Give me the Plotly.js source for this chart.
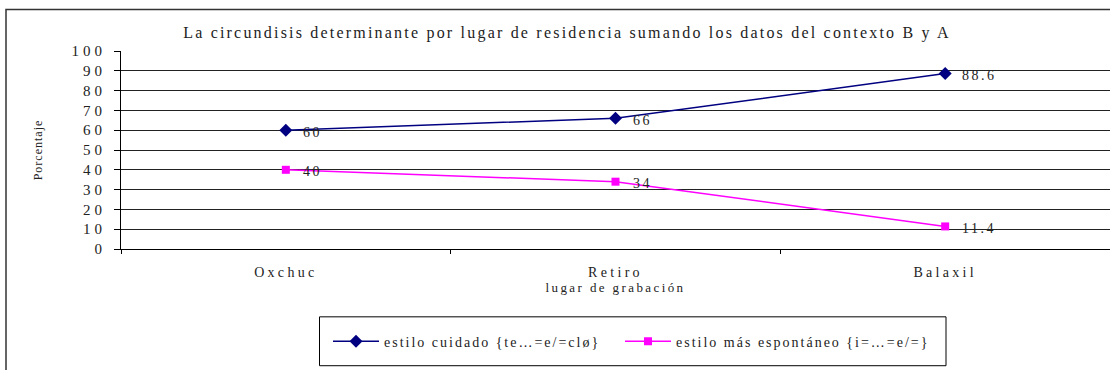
<!DOCTYPE html>
<html>
<head>
<meta charset="utf-8">
<script src="https://cdn.plot.ly/plotly-3.0.1.min.js"></script>
<style>
html,body{margin:0;padding:0;background:#fff;}
#chart{width:1110px;height:370px;}
.gtitle{letter-spacing:2.2px;}
.ytick text{letter-spacing:4px;}
.xtick text{letter-spacing:3.3px;}
.xtitle{letter-spacing:2.4px;}
.ytitle{letter-spacing:1px;}
.legendtext{letter-spacing:2px;}
.annotation-text{letter-spacing:2.5px;}
</style>
</head>
<body>
<div id="chart"></div>
<script>
var categories = ["Oxchuc", "Retiro", "Balaxil"];
var seriesNames = ["estilo cuidado {te…=e/=clø}", "estilo más espontáneo {i=…=e/=}"];
var cuidado = [60, 66, 88.6];
var espontaneo = [40, 34, 11.4];
var yTicks = [0, 10, 20, 30, 40, 50, 60, 70, 80, 90, 100];

var FONT = "'Liberation Serif', 'Times New Roman', Times, serif";
var TXT = "#222";

var traces = [
  {
    x: categories, y: cuidado, name: seriesNames[0], type: "scatter",
    mode: "lines+markers",
    line: {color: "#000080", width: 1.5},
    marker: {symbol: "diamond", size: 10, color: "#000080"},
    cliponaxis: false, legendwidth: 231
  },
  {
    x: categories, y: espontaneo, name: seriesNames[1], type: "scatter",
    mode: "lines+markers",
    line: {color: "#FF00FF", width: 1.5},
    marker: {symbol: "square", size: 8, color: "#FF00FF"},
    cliponaxis: false, legendwidth: 275
  }
];

// data labels placed through the axes (category, value)
var annotations = [];
[cuidado, espontaneo].forEach(function (vals) {
  vals.forEach(function (v, i) {
    annotations.push({
      x: categories[i], y: v, xref: "x", yref: "y", text: String(v),
      showarrow: false, xanchor: "left", yanchor: "middle", xshift: 15, yshift: -2,
      font: {family: FONT, size: 14, color: TXT}
    });
  });
});

var ML = 121, PW = 1110 - ML, PT = 50.5, PB = 249, PH = PB - PT;
function px2x(px) { return (px - ML) / PW; }
function py2y(py) { return (PB - py) / PH; }

var layout = {
  width: 1110, height: 370,
  margin: {l: ML, r: 0, t: PT, b: 370 - PB, pad: 0},
  paper_bgcolor: "#fff", plot_bgcolor: "#fff",
  font: {family: FONT, color: TXT},
  title: {
    text: "La circundisis determinante por lugar de residencia sumando los datos del contexto B y A",
    font: {family: FONT, size: 16, color: TXT},
    x: 567/1110, xanchor: "center", y: 1 - 32/370, yanchor: "middle", xref: "container", yref: "container"
  },
  xaxis: {
    type: "category", categoryorder: "array", categoryarray: categories,
    range: [-0.5, 2.5], showline: true, linecolor: "#000", linewidth: 1,
    ticks: "outside", tickson: "boundaries", ticklen: 4, tickcolor: "#000",
    showgrid: false, zeroline: false,
    tickfont: {family: FONT, size: 14, color: TXT},
    ticklabelstandoff: 10,
    title: {text: "lugar de grabación", font: {family: FONT, size: 13, color: TXT}, standoff: 0},
    automargin: false, fixedrange: true
  },
  yaxis: {
    range: [0, 100], tickvals: yTicks, ticktext: yTicks.map(String),
    showline: true, linecolor: "#000", linewidth: 1,
    ticks: "outside", ticklen: 6, tickcolor: "#000",
    showgrid: true, gridcolor: "#222", gridwidth: 1, zeroline: false,
    tickfont: {family: FONT, size: 15, color: TXT},
    ticklabelstandoff: 5,
    title: {text: "Porcentaje", font: {family: FONT, size: 12, color: TXT}, standoff: 26},
    automargin: false, fixedrange: true
  },
  showlegend: true,
  legend: {
    orientation: "h", xanchor: "left", yanchor: "middle",
    x: px2x(328), y: py2y(342),
    bgcolor: "rgba(0,0,0,0)", borderwidth: 0,
    font: {family: FONT, size: 14, color: TXT},
    itemwidth: 46
  },
  annotations: annotations,
  shapes: [
    {type: "rect", xref: "paper", yref: "paper",
     x0: px2x(6), x1: px2x(1116), y0: py2y(376), y1: py2y(9),
     line: {color: "#333", width: 1.5}, fillcolor: "rgba(0,0,0,0)", layer: "below"},
    {type: "rect", xref: "paper", yref: "paper",
     x0: px2x(319.5), x1: px2x(946), y0: py2y(366), y1: py2y(317),
     line: {color: "#000", width: 1}, fillcolor: "rgba(0,0,0,0)", layer: "above"}
  ]
};

Plotly.newPlot("chart", traces, layout, {displayModeBar: false, staticPlot: true});
</script>
</body>
</html>
